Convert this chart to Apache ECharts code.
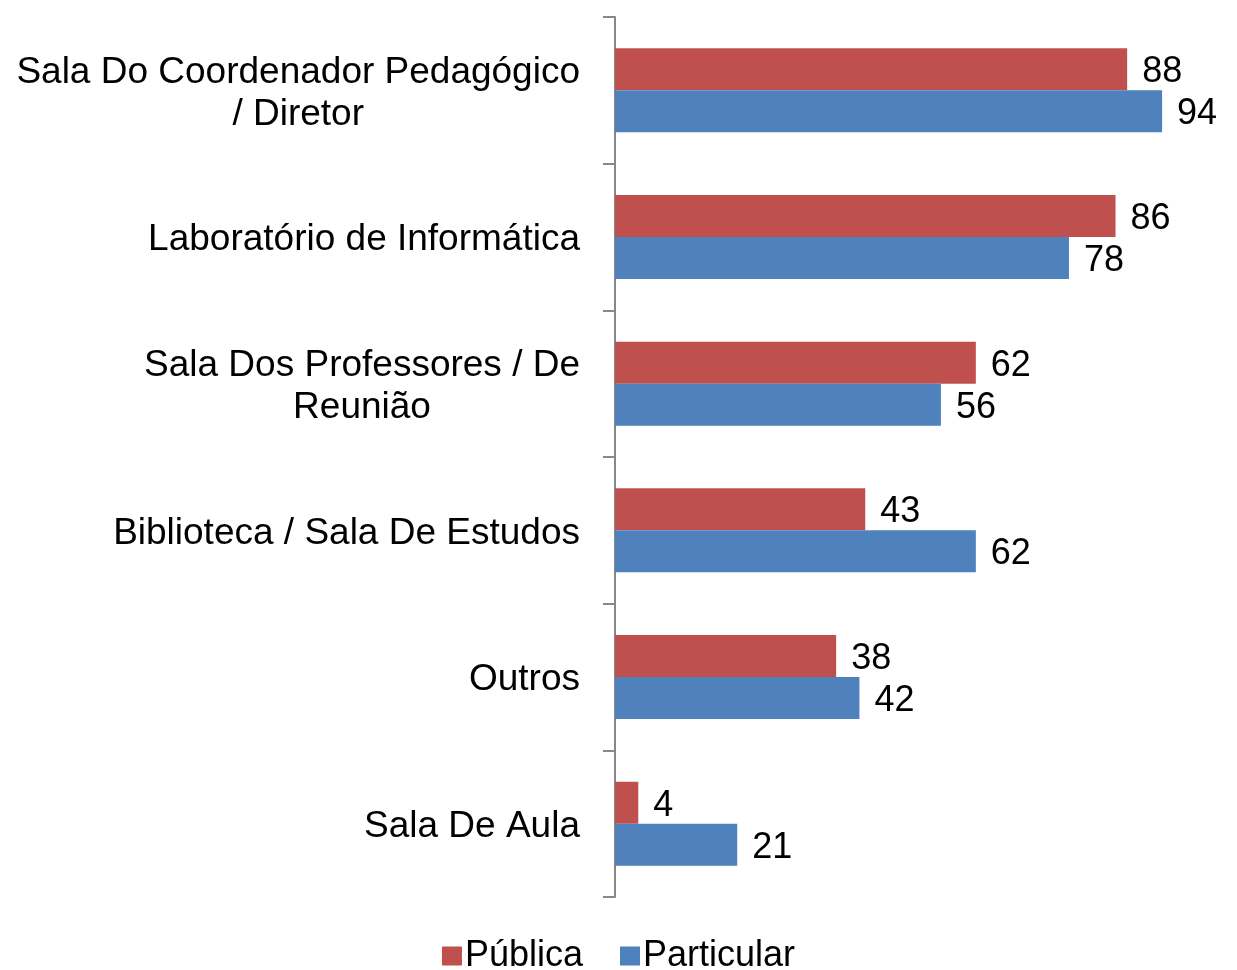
<!DOCTYPE html>
<html><head><meta charset="utf-8">
<script src="https://cdn.jsdelivr.net/npm/echarts@6/dist/echarts.min.js"></script>
<style>html,body{margin:0;padding:0;background:#fff}#c{width:1237px;height:970px}</style>
</head><body><div id="c"></div>
<script>
const categories = [
  "Sala Do Coordenador Pedagógico\n/ Diretor",
  "Laboratório de Informática",
  "Sala Dos Professores / De\nReunião",
  "Biblioteca / Sala De Estudos",
  "Outros",
  "Sala De Aula"
];
const publica = [88, 86, 62, 43, 38, 4];
const particular = [94, 78, 56, 62, 42, 21];
const seriesNames = ["Pública", "Particular"];

const font = "'Liberation Sans', Arial, sans-serif";
const fs = 36;
const cfs = 37;
const chart = echarts.init(document.getElementById('c'), null, {renderer: 'canvas'});
const labelStyle = {show: true, position: 'right', distance: 15, offset: [0, 3], fontSize: fs, color: '#000', fontFamily: font};
chart.setOption({
  animation: false,
  grid: {left: 615, right: 40, top: 17, bottom: 73, containLabel: false},
  legend: {
    top: 938, left: 'center', itemWidth: 20, itemHeight: 19, itemGap: 37,
    icon: 'rect', padding: 0,
    textStyle: {fontSize: fs, color: '#000', fontFamily: font, padding: [0, 0, 0, -2]},
    data: seriesNames
  },
  xAxis: {type: 'value', min: 0, max: 100, show: false},
  yAxis: {
    type: 'category', inverse: true, data: categories,
    axisLine: {show: true, lineStyle: {color: '#888', width: 2}},
    axisTick: {show: true, length: 12, lineStyle: {color: '#888', width: 2}},
    axisLabel: {
      margin: 35, color: '#000', fontSize: cfs, fontFamily: font, lineHeight: 42,
      padding: [6, 0, 0, 0],
      formatter: v => v.split('\n').map(s => '{c|' + s + '}').join('\n'),
      rich: {c: {align: 'center', fontSize: cfs, fontFamily: font, lineHeight: 42, color: '#000'}}
    },
    splitLine: {show: false}
  },
  series: [
    {name: seriesNames[0], type: 'bar', data: publica, barWidth: 42, barGap: '0%',
     itemStyle: {color: '#C0504D'}, label: labelStyle},
    {name: seriesNames[1], type: 'bar', data: particular, barWidth: 42, barGap: '0%',
     itemStyle: {color: '#4F81BD'}, label: labelStyle}
  ]
});
</script></body></html>
